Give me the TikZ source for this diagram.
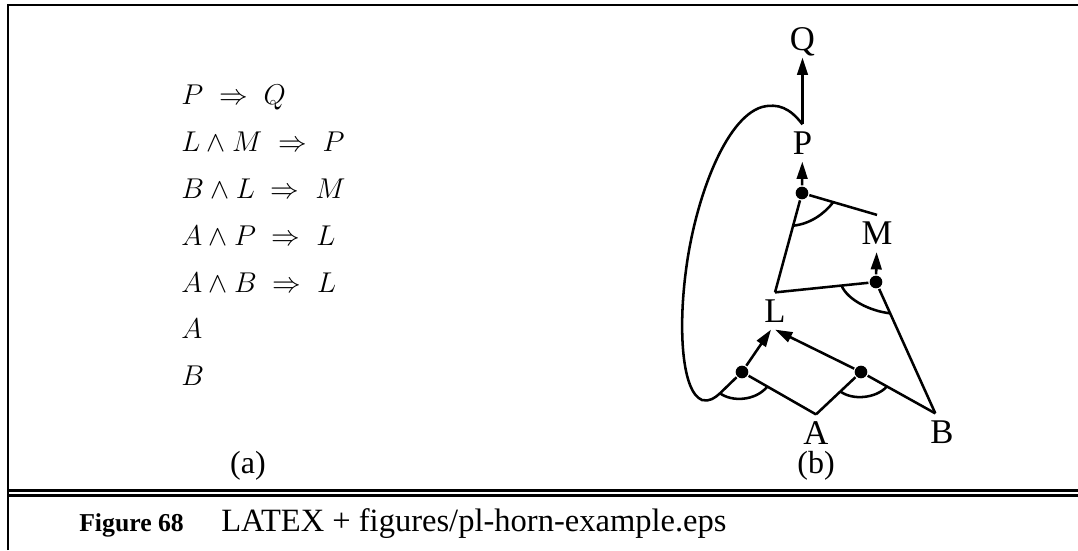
\documentclass[tikz,border=0pt]{standalone}
\usepackage{graphicx}
\usepackage{fontspec}
\newfontfamily\timesfont{Liberation Serif}
\usetikzlibrary{arrows.meta}

\newcommand{\clause}[1]{\scalebox{1.035}{$#1$}}

\tikzset{every picture/.style={line width=1.9pt}}
\tikzset{
  lbl/.style={font=\timesfont\fontsize{26}{30}\selectfont, text height=17pt, text depth=0pt, inner xsep=2pt, inner ysep=4.5pt},
  andpt/.style={circle, fill, inner sep=0pt, minimum size=9.5pt},
  arr/.style={-{Triangle[length=13pt,width=8pt]}},
  rule/.style={anchor=base west, inner sep=0pt, font=\huge},
  sub/.style={font=\timesfont\fontsize{24}{28}\selectfont, inner sep=0pt},
}

\begin{document}
\begin{tikzpicture}[x=0.75pt,y=0.75pt,yscale=-1,xscale=1]
\useasboundingbox (0,0) rectangle (1078,550);

% frame
\draw (8,550) -- (8,5) -- (1078,5);
\draw (8,490.3) -- (1078,490.3);
\draw (8,495.6) -- (1078,495.6);

% (a) the clauses
\node[rule] (r1) at (180,104) {\clause{P \;\Rightarrow\; Q}};
\node[rule] (r2) at (180,151) {\clause{L \wedge M \;\Rightarrow\; P}};
\node[rule] (r3) at (180,198) {\clause{B \wedge L \;\Rightarrow\; M}};
\node[rule] (r4) at (180,245) {\clause{A \wedge P \;\Rightarrow\; L}};
\node[rule] (r5) at (180,292) {\clause{A \wedge B \;\Rightarrow\; L}};
\node[rule] (r6) at (180,338) {\clause{A}};
\node[rule] (r7) at (180,385) {\clause{B}};
\node[sub] (capa) at (248,466) {(a)};

% (b) the and-or graph
\node[lbl] (Q) at (802.5,39) {Q};
\node[lbl] (P) at (802.5,143) {P};
\node[lbl] (M) at (877,233.5) {M};
\node[lbl] (L) at (775,311) {L};
\node[lbl] (A) at (816,433) {A};
\node[lbl] (B) at (942,432) {B};
\node[sub] (capb) at (816,466) {(b)};

\node[andpt] (pand) at (802,193) {};
\node[andpt] (mand) at (876,282) {};
\node[andpt] (lpand) at (742,372) {};
\node[andpt] (lband) at (861,372) {};

\draw[arr] (P) -- (Q);
\draw[arr] (pand) -- (P);
\draw[arr] (mand) -- (M);
\draw[arr] (lpand) -- ([xshift=-3pt]L.south);
\draw[arr] (lband) -- (L.south);

\draw (L.north) -- (pand) -- (M.north);
\draw (L.north) -- (mand) -- ([xshift=-5pt]B.north);
\draw (A.north) -- (lpand);
\draw (A.north) -- (lband) -- ([xshift=-5pt]B.north);

% P fed back into A and P
\draw (P.north) .. controls (790,108) and (778,103) .. (762,107) .. controls (725,118) and (695,200) .. (686,270) .. controls (678,330) and (682,392) .. (702,400) .. controls (709,402) and (715,398) .. (720,393.3) -- (lpand);

% and arcs
\draw (793,225.7) .. controls (810,224) and (824,214) .. (833,202.5);
\draw (841.7,286) .. controls (848,300) and (870,311) .. (890,313.3);
\draw (720,393.3) .. controls (732,402) and (755,401) .. (767,387);
\draw (840.7,391.7) .. controls (852,400) and (875,399) .. (886.7,386.8);

% caption
\node[anchor=base west, inner sep=0pt, font=\timesfont\bfseries\fontsize{19.3}{23}\selectfont] (fig) at (78,531.7) {Figure 68};
\node[anchor=base west, inner sep=0pt, font=\timesfont\fontsize{24.4}{29}\selectfont] (cap) at (220,531.7) {LATEX + figures/pl-horn-example.eps};

\end{tikzpicture}
\end{document}
